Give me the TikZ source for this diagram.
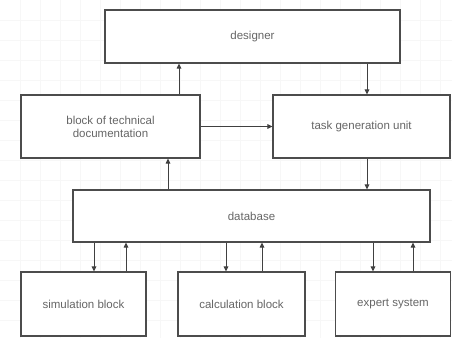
\documentclass[tikz,border=0pt]{standalone}
\usepackage{fontspec}
\setmainfont{Liberation Sans}
\usetikzlibrary{arrows.meta}
\begin{document}
\begin{tikzpicture}[x=1pt,y=-1pt,
  blk/.style={draw=black!70,line width=1.1pt,fill=white,inner sep=0pt,font=\fontsize{11.5}{13}\selectfont,text=black!60,align=center},
  arr/.style={draw=black!75,line width=1pt,-{Triangle[length=5pt,width=4.5pt]}}]
\useasboundingbox[fill=white] (0,0) rectangle (452,338);
\begin{scope}[draw=black!3,line width=0.4pt]
\foreach \i in {20,40,...,440} \draw (\i,0) -- (\i,338);
\foreach \j in {20,40,...,320} \draw (0,\j) -- (452,\j);
\end{scope}
\node[blk,minimum width=295pt,minimum height=53pt] (des) at (252.5,36.5) {designer};
\node[blk,minimum width=179pt,minimum height=63pt] (doc) at (110.5,126.5) {block of technical\\documentation};
\node[blk,minimum width=177pt,minimum height=63pt] (task) at (361.5,126.5) {task generation unit};
\node[blk,minimum width=357pt,minimum height=52pt] (db) at (251.5,216) {database};
\node[blk,minimum width=125pt,minimum height=64pt] (sim) at (83.5,304) {simulation block};
\node[blk,minimum width=127pt,minimum height=64pt] (calc) at (241.5,304) {calculation block};
\node[blk,minimum width=115pt,minimum height=64pt] (exp) at (393,304) {expert system};
\draw[arr] (doc.north -| 179,0) -- (des.south -| 179,0);
\draw[arr] (des.south -| 367,0) -- (task.north -| 367,0);
\draw[arr] (doc.east) -- (task.west);
\draw[arr] (db.north -| 168,0) -- (doc.south -| 168,0);
\draw[arr] (task.south -| 367,0) -- (db.north -| 367,0);
\draw[arr] (db.south -| 94,0) -- (sim.north -| 94,0);
\draw[arr] (sim.north -| 126,0) -- (db.south -| 126,0);
\draw[arr] (db.south -| 226,0) -- (calc.north -| 226,0);
\draw[arr] (calc.north -| 262,0) -- (db.south -| 262,0);
\draw[arr] (db.south -| 373,0) -- (exp.north -| 373,0);
\draw[arr] (exp.north -| 413,0) -- (db.south -| 413,0);
\end{tikzpicture}
\end{document}
